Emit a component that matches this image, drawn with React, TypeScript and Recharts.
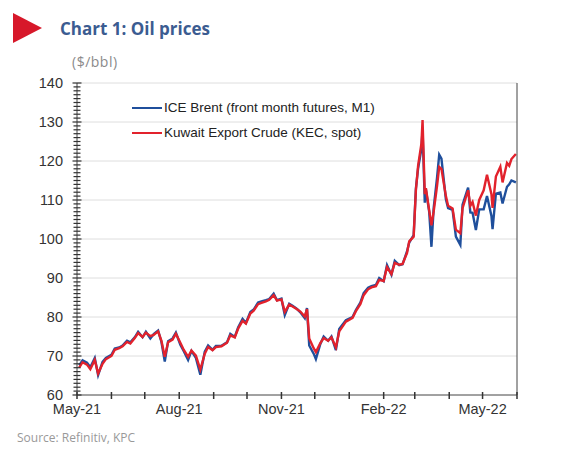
import { LineChart, Line, XAxis, YAxis, ReferenceLine } from "recharts";

// trading days sampled roughly twice a week
const dates = [
  "2021-05-03", "2021-05-06", "2021-05-10", "2021-05-13", "2021-05-17", "2021-05-20", "2021-05-24", "2021-05-27",
  "2021-06-01", "2021-06-04", "2021-06-08", "2021-06-11", "2021-06-15", "2021-06-18", "2021-06-22", "2021-06-25", "2021-06-29",
  "2021-07-02", "2021-07-06", "2021-07-09", "2021-07-13", "2021-07-16", "2021-07-19", "2021-07-22", "2021-07-26", "2021-07-29",
  "2021-08-02", "2021-08-05", "2021-08-09", "2021-08-12", "2021-08-16", "2021-08-20", "2021-08-24", "2021-08-27", "2021-08-31",
  "2021-09-03", "2021-09-08", "2021-09-13", "2021-09-16", "2021-09-20", "2021-09-23", "2021-09-27", "2021-09-30",
  "2021-10-04", "2021-10-07", "2021-10-11", "2021-10-14", "2021-10-18", "2021-10-21", "2021-10-25", "2021-10-28",
  "2021-11-01", "2021-11-04", "2021-11-08", "2021-11-11", "2021-11-15", "2021-11-18", "2021-11-22", "2021-11-24", "2021-11-26", "2021-11-30",
  "2021-12-02", "2021-12-06", "2021-12-09", "2021-12-13", "2021-12-16", "2021-12-20", "2021-12-23", "2021-12-29",
  "2022-01-04", "2022-01-07", "2022-01-11", "2022-01-14", "2022-01-18", "2022-01-21", "2022-01-25", "2022-01-28",
  "2022-02-01", "2022-02-04", "2022-02-08", "2022-02-11", "2022-02-15", "2022-02-18", "2022-02-22", "2022-02-24", "2022-02-28",
  "2022-03-02", "2022-03-04", "2022-03-07", "2022-03-08", "2022-03-10", "2022-03-11", "2022-03-14", "2022-03-16", "2022-03-18",
  "2022-03-21", "2022-03-23", "2022-03-25", "2022-03-29", "2022-03-31",
  "2022-04-04", "2022-04-07", "2022-04-11", "2022-04-13", "2022-04-18", "2022-04-20", "2022-04-22", "2022-04-25", "2022-04-28",
  "2022-05-02", "2022-05-05", "2022-05-09", "2022-05-10", "2022-05-13", "2022-05-17", "2022-05-19", "2022-05-23", "2022-05-25",
  "2022-05-27", "2022-05-31",
];

const brent = [
  67.6, 68.9, 68.3, 67.1, 69.5, 65.1, 68.5, 69.5,
  70.3, 71.9, 72.2, 72.7, 73.9, 73.5, 74.8, 76.2, 74.8,
  76.2, 74.5, 75.6, 76.5, 73.6, 68.6, 73.8, 74.5, 76.0,
  72.9, 71.3, 69.0, 71.3, 69.5, 65.2, 71.1, 72.7, 71.6,
  72.6, 72.6, 73.5, 75.7, 74.9, 77.3, 79.5, 78.5,
  81.3, 81.9, 83.7, 84.0, 84.3, 84.6, 86.0, 84.3,
  84.7, 80.5, 83.4, 82.9, 82.1, 81.2, 79.7, 82.3, 72.7, 70.6,
  69.2, 73.1, 75.0, 73.9, 75.0, 71.5, 76.9, 79.2,
  80.0, 81.8, 83.7, 86.1, 87.5, 87.9, 88.2, 90.0,
  89.2, 93.3, 90.8, 94.4, 93.3, 93.5, 96.8, 99.1, 101.0,
  112.9, 118.1, 123.2, 128.0, 109.3, 112.7, 106.9, 98.0, 107.9,
  115.6, 121.6, 120.6, 110.2, 107.9,
  107.5, 100.6, 98.5, 108.8, 113.2, 106.8, 106.7, 102.3, 107.6,
  107.6, 111.0, 105.9, 102.5, 111.6, 111.9, 109.1, 113.4, 114.0,
  115.0, 114.5,
];

const kec = [
  67.0, 68.4, 67.8, 66.6, 69.0, 65.5, 68.0, 69.2,
  70.0, 71.6, 72.0, 72.5, 73.6, 73.2, 74.6, 75.9, 74.9,
  76.0, 75.1, 75.4, 76.3, 73.9, 69.8, 73.5, 74.2, 75.7,
  73.4, 71.6, 69.8, 71.4, 70.1, 66.5, 70.6, 72.3, 71.5,
  72.3, 72.5, 73.4, 75.3, 74.8, 77.0, 79.0, 78.3,
  80.9, 81.6, 83.3, 83.6, 84.0, 84.4, 85.6, 84.2,
  84.5, 81.3, 83.2, 82.7, 82.0, 81.4, 80.1, 82.0, 74.5, 72.0,
  71.0, 73.3, 74.6, 73.9, 74.8, 72.2, 76.3, 78.8,
  79.8, 81.5, 83.3, 85.6, 87.1, 87.6, 87.9, 89.5,
  89.2, 92.8, 91.0, 93.9, 93.4, 93.6, 96.4, 99.4, 100.6,
  112.5, 118.8, 124.5, 130.5, 111.5, 113.0, 107.3, 103.5, 107.0,
  113.5, 118.5, 118.0, 111.0, 108.5,
  107.8, 102.4, 101.5, 107.9, 112.5, 108.5, 109.5, 106.0, 110.0,
  112.5, 116.5, 111.5, 108.0, 116.0, 118.5, 114.5, 119.5, 118.8,
  120.5, 121.8,
];

const monthTicks = [
  "2021-05-01", "2021-06-01", "2021-07-01", "2021-08-01", "2021-09-01", "2021-10-01", "2021-11-01",
  "2021-12-01", "2022-01-01", "2022-02-01", "2022-03-01", "2022-04-01", "2022-05-01", "2022-06-01",
];
const labelTicks = ["2021-05-01", "2021-08-01", "2021-11-01", "2022-02-01", "2022-05-01"];
const xLabels = ["May-21", "Aug-21", "Nov-21", "Feb-22", "May-22"];
const gridValues = [70, 80, 90, 100, 110, 120, 130, 140];

const BLUE = "#1f4f9c";
const RED = "#e2222c";
const AXIS = "#444";
const FONT = "'Liberation Sans', Arial, sans-serif";

const toTime = (d: string) => Date.parse(d + "T00:00:00Z");

const data = dates.map((d, i) => ({ t: toTime(d), brent: brent[i], kec: kec[i] }));
const xTicks = monthTicks.map(toTime);
const xLabelMap: Record<number, string> = {};
labelTicks.forEach((d, i) => (xLabelMap[toTime(d)] = xLabels[i]));

const yTicks: number[] = [];
for (let v = 60; v <= 140; v++) yTicks.push(v);

function XTick(props: any) {
  const { x, y, payload } = props;
  const label = xLabelMap[payload.value];
  return (
    <g>
      <rect x={x - 0.75} y={y - 3} width={1.5} height={7} fill="#333" />
      {label && (
        <text x={x} y={y + 19} textAnchor="middle" fill="#333" fontSize={14.5} fontFamily={FONT}>
          {label}
        </text>
      )}
    </g>
  );
}

function YTick(props: any) {
  const { x, y, payload, side } = props;
  const v = payload.value;
  const major = v % 10 === 0;
  const len = major ? 4.5 : 3.5;
  return (
    <g>
      <rect x={x - len} y={y - 0.6} width={len * 2} height={1.2} fill="#333" />
      {major && (
        <text
          x={side === "left" ? x - 14 : x + 11}
          y={y + 5}
          textAnchor={side === "left" ? "end" : "start"}
          fill="#333"
          fontSize={14.5}
          fontFamily={FONT}
        >
          {v}
        </text>
      )}
    </g>
  );
}

export default function App() {
  return (
    <div style={{ position: "absolute", left: 0, top: 0, width: 568, height: 452, background: "#fff" }}>
      <svg style={{ position: "absolute", left: 12, top: 13 }} width={32} height={32}>
        <polygon points="1,0 30,15 1,30" fill="#d7182a" />
      </svg>
      <div
        style={{
          position: "absolute",
          left: 60,
          top: 17,
          fontFamily: "'Open Sans', sans-serif",
          fontWeight: 700,
          fontSize: 17,
          color: "#3b5c91",
          whiteSpace: "nowrap",
        }}
      >
        Chart 1: Oil prices
      </div>
      <div
        style={{
          position: "absolute",
          left: 72,
          top: 52,
          fontFamily: "'Open Sans', sans-serif",
          fontSize: 14,
          letterSpacing: 0.5,
          color: "#8a8a8a",
        }}
      >
        ($/bbl)
      </div>

      <LineChart width={568} height={452} data={data} margin={{ top: 83, right: 0, bottom: 26, left: 0 }}>
        {gridValues.map((v) => (
          <ReferenceLine key={v} y={v} yAxisId="left" stroke="#dedede" strokeWidth={1} />
        ))}
        <XAxis
          dataKey="t"
          type="number"
          domain={[xTicks[0], xTicks[xTicks.length - 1]]}
          ticks={xTicks}
          interval={0}
          tick={<XTick />}
          tickLine={false}
          tickSize={0}
          tickMargin={0}
          height={31}
          stroke={AXIS}
        />
        <YAxis
          yAxisId="left"
          domain={[60, 140]}
          ticks={yTicks}
          interval={0}
          tick={<YTick side="left" />}
          tickLine={false}
          tickSize={0}
          tickMargin={0}
          width={77}
          stroke={AXIS}
        />
        <YAxis
          yAxisId="right"
          orientation="right"
          domain={[60, 140]}
          ticks={yTicks}
          interval={0}
          tick={<YTick side="right" />}
          tickLine={false}
          tickSize={0}
          tickMargin={0}
          width={51}
          stroke={AXIS}
        />
        <Line yAxisId="left" dataKey="brent" stroke={BLUE} strokeWidth={2.4} dot={false} isAnimationActive={false} />
        <Line yAxisId="left" dataKey="kec" stroke={RED} strokeWidth={2.4} dot={false} isAnimationActive={false} />
      </LineChart>

      <div
        style={{
          position: "absolute",
          left: 132,
          top: 95,
          fontFamily: FONT,
          fontSize: 13.5,
          color: "#222",
          lineHeight: "25px",
        }}
      >
        {[
          { name: "ICE Brent (front month futures, M1)", color: BLUE },
          { name: "Kuwait Export Crude (KEC, spot)", color: RED },
        ].map((s) => (
          <div key={s.name} style={{ display: "flex", alignItems: "center", whiteSpace: "nowrap" }}>
            <span style={{ display: "inline-block", width: 30, height: 2, background: s.color, marginRight: 2 }} />
            {s.name}
          </div>
        ))}
      </div>

      <div
        style={{
          position: "absolute",
          left: 17,
          top: 429,
          fontFamily: "'Open Sans', sans-serif",
          fontSize: 12,
          color: "#999",
        }}
      >
        Source: Refinitiv, KPC
      </div>
    </div>
  );
}
